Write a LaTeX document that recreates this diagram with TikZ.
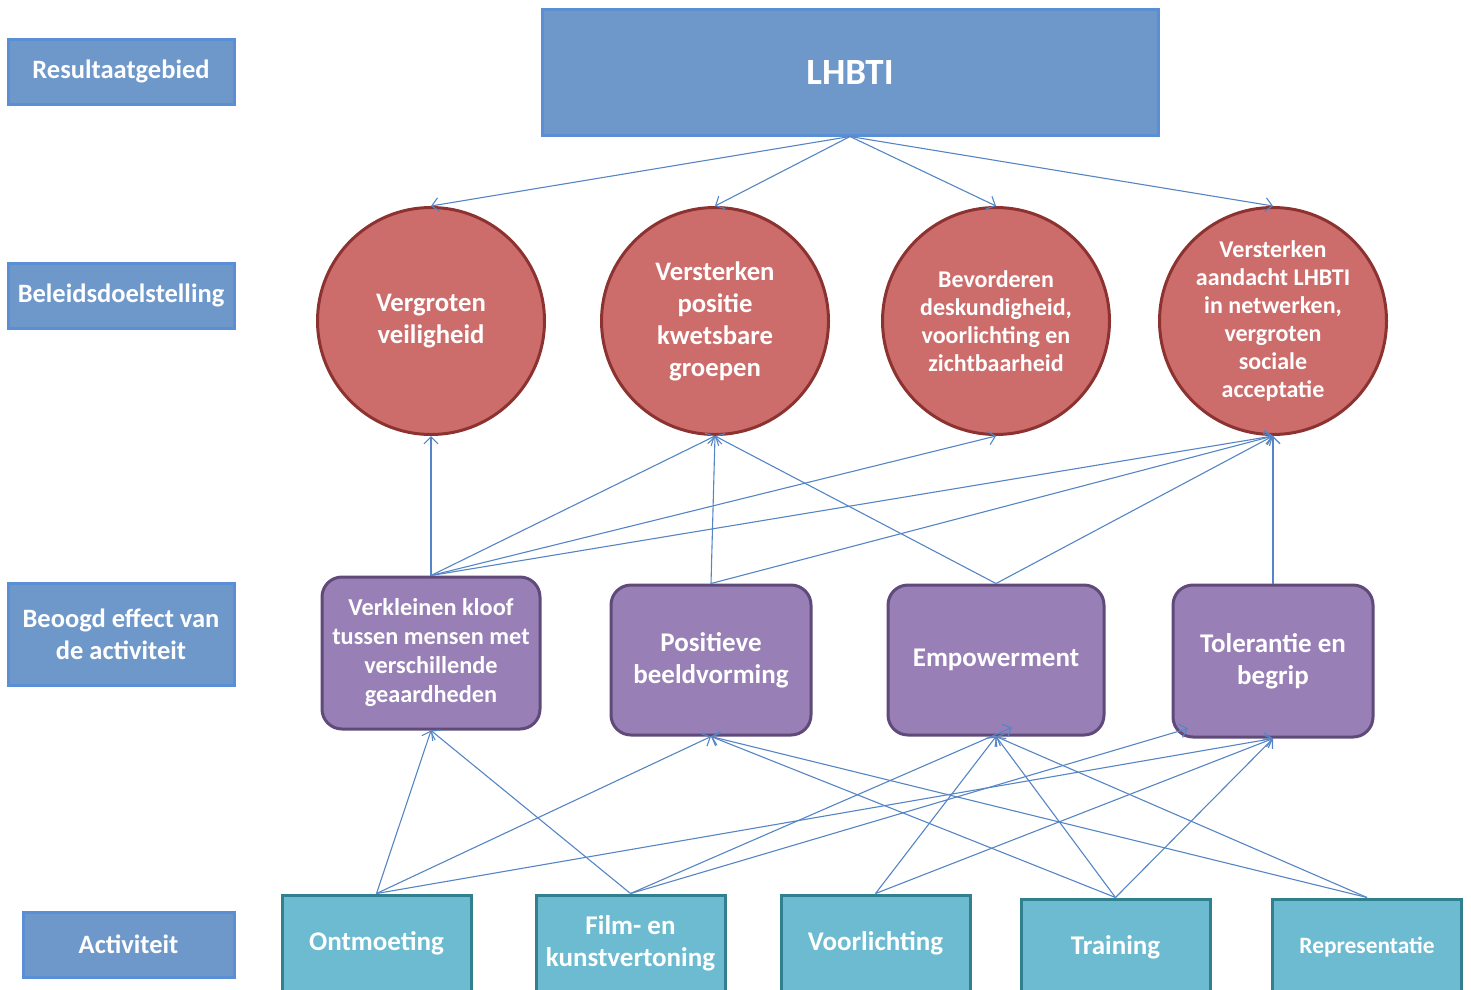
\documentclass[tikz,border=0pt]{standalone}
\usepackage{fontspec}
\setmainfont{Carlito}
\usetikzlibrary{arrows.meta,calc}
\definecolor{lblfill}{HTML}{6F98CA}
\definecolor{lbldraw}{HTML}{5B8FD5}
\definecolor{goalfill}{HTML}{CD6D6B}
\definecolor{goaldraw}{HTML}{8C3230}
\definecolor{efffill}{HTML}{9880B6}
\definecolor{effdraw}{HTML}{5F4A7A}
\definecolor{actfill}{HTML}{6DBBD1}
\definecolor{actdraw}{HTML}{31808F}
\definecolor{arrc}{HTML}{5585C5}
\begin{document}
\begin{tikzpicture}[x=1pt,y=-1pt,
  lbl/.style={draw=lbldraw, fill=lblfill, line width=3pt, text=white, align=center, inner sep=0pt,
    font=\fontsize{26.5}{32}\selectfont\bfseries},
  goal/.style={circle, draw=goaldraw, fill=goalfill, line width=3pt, minimum size=227pt, inner sep=0pt,
    text=white, align=center},
  bigtxt/.style={font=\fontsize{26.7}{32}\selectfont\bfseries},
  smalltxt/.style={font=\fontsize{24}{28}\selectfont\bfseries},
  eff/.style={draw=effdraw, fill=efffill, line width=3pt, rounded corners=20pt, inner sep=0pt,
    text=white, align=center},
  act/.style={draw=actdraw, fill=actfill, line width=3pt, inner sep=0pt, minimum width=189pt,
    text=white, align=center, font=\fontsize{27}{32}\selectfont\bfseries},
  arr/.style={draw=arrc, line width=1.1pt, -{Straight Barb[length=7pt,width=14pt,line width=1.1pt]}}
]
\useasboundingbox (0,0) rectangle (1471,989);
\clip (0,0) rectangle (1471,989);

% row labels
\node[lbl, minimum width=226pt, minimum height=65pt] (rg) at (121,71.5) {Resultaatgebied};
\node[lbl, minimum width=226pt, minimum height=65pt] (bd) at (121,295.5) {Beleidsdoelstelling};
\node[lbl, minimum width=226pt, minimum height=102pt] (be) at (121,634) {Beoogd effect van\\de activiteit};
\node[lbl, minimum width=211pt, minimum height=65pt] (ac) at (128.5,944.5) {Activiteit};

% result area
\node[lbl, minimum width=616pt, minimum height=126pt, font=\fontsize{37}{44}\selectfont\bfseries] (lhbti) at (850,72) {LHBTI};

% goals
\node[goal, bigtxt] (g1) at (431,321) {Vergroten\\veiligheid};
\node[goal, bigtxt] (g2) at (715,321) {Versterken\\positie\\kwetsbare\\groepen};
\node[goal, smalltxt] (g3) at (996,321) {Bevorderen\\deskundigheid,\\voorlichting en\\zichtbaarheid};
\node[goal, smalltxt] (g4) at (1273,321) {Versterken\\aandacht LHBTI\\in netwerken,\\vergroten\\sociale\\acceptatie};

% effects
\node[eff, minimum width=218pt, minimum height=152pt, font=\fontsize{24.3}{29}\selectfont\bfseries] (e1) at (431,653) {Verkleinen kloof\\tussen mensen met\\verschillende\\geaardheden};
\node[eff, minimum width=200pt, minimum height=150pt, font=\fontsize{27}{32}\selectfont\bfseries] (e2) at (711,660) {Positieve\\beeldvorming};
\node[eff, minimum width=216pt, minimum height=150pt, font=\fontsize{27}{32}\selectfont\bfseries] (e3) at (996,660) {Empowerment};
\node[eff, minimum width=200pt, minimum height=152pt, font=\fontsize{27}{32}\selectfont\bfseries] (e4) at (1273,661) {Tolerantie en\\begrip};

% activities
\node[act, minimum height=97pt] (a1) at (376.5,943.5) {Ontmoeting};
\node[act, minimum height=97pt] (a2) at (630.5,943.5) {Film- en\\kunstvertoning};
\node[act, minimum height=97pt] (a3) at (875.5,943.5) {Voorlichting};
\node[act, minimum height=97pt] (a4) at (1115.5,947.5) {Training};
\node[act, minimum height=97pt, font=\fontsize{23.4}{28}\selectfont\bfseries] (a5) at (1367,947.5) {Representatie};

% result -> goals
\draw[arr] (lhbti.south) -- (g1.north);
\draw[arr] (lhbti.south) -- (g2.north);
\draw[arr] (lhbti.south) -- (g3.north);
\draw[arr] (lhbti.south) -- (g4.north);

% effects -> goals
\draw[arr] (e1.north) -- (g1.south);
\draw[arr] (e1.north) -- (g2.south);
\draw[arr] (e1.north) -- (g3.south);
\draw[arr] (e1.north) -- (g4.south);
\draw[arr] (e2.north) -- (g2.south);
\draw[arr] (e2.north) -- (g4.south);
\draw[arr] (e3.north) -- (g2.south);
\draw[arr] (e3.north) -- (g4.south);
\draw[arr] (e4.north) -- (g4.south);

% activities -> effects
\draw[arr] (a1.north) -- (e1.south);
\draw[arr] (a1.north) -- (e2.south);
\draw[arr] (a1.north) -- (e4.south);
\draw[arr] (a2.north) -- (e1.south);
\draw[arr] (a2.north) -- ($(e3.south)+(16,-9)$);
\draw[arr] (a2.north) -- ($(e4.south)+(-85,-10)$);
\draw[arr] (a3.north) -- (e3.south);
\draw[arr] (a3.north) -- (e4.south);
\draw[arr] (a4.north) -- (e2.south);
\draw[arr] (a4.north) -- (e3.south);
\draw[arr] (a4.north) -- (e4.south);
\draw[arr] (a5.north) -- (e2.south);
\draw[arr] (a5.north) -- (e3.south);
\end{tikzpicture}
\end{document}
